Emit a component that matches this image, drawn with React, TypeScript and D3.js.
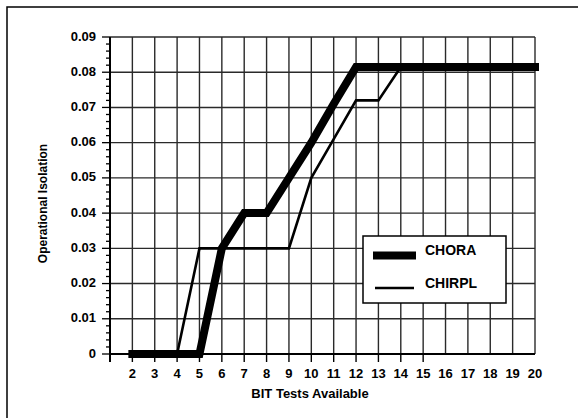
import React from "react";
import * as d3 from "d3";

// BIT tests available (x) and operational isolation (y) for the two methods
const tests = [2, 3, 4, 5, 6, 7, 8, 9, 10, 11, 12, 13, 14, 15, 16, 17, 18, 19, 20];
const chora = [0, 0, 0, 0, 0.03, 0.04, 0.04, 0.05, 0.06, 0.071, 0.0815, 0.0815, 0.0815, 0.0815, 0.0815, 0.0815, 0.0815, 0.0815, 0.0815];
const chirpl = [0, 0, 0, 0.03, 0.03, 0.03, 0.03, 0.03, 0.05, 0.061, 0.072, 0.072, 0.0815, 0.0815, 0.0815, 0.0815, 0.0815, 0.0815, 0.0815];
const yTicks = [0, 0.01, 0.02, 0.03, 0.04, 0.05, 0.06, 0.07, 0.08, 0.09];
const yTickLabels = ["0", "0.01", "0.02", "0.03", "0.04", "0.05", "0.06", "0.07", "0.08", "0.09"];
const legendNames = ["CHORA", "CHIRPL"];

const W = 578;
const H = 418;
const margin = { top: 37, right: 43, bottom: 64, left: 110 };
const font = "'Liberation Sans', Arial, sans-serif";

export default function App() {
  const x = d3.scaleLinear().domain([1, 20]).range([margin.left, W - margin.right]);
  const y = d3.scaleLinear().domain([0, 0.09]).range([H - margin.bottom, margin.top]);

  const line = d3
    .line<number>()
    .x((_, i) => x(tests[i]))
    .y((d) => y(d));

  const minor = d3.range(0, 0.0901, 0.002);
  const x0 = x(1);
  const x1 = x(20);
  const y0 = y(0);
  const yTop = y(0.09);

  return (
    <svg
      width={W}
      height={H}
      style={{ position: "absolute", left: 0, top: 0, background: "#fff" }}
    >
      {/* outer frame */}
      <rect x={7} y={7} width={W + 10} height={H + 10} fill="none" stroke="#000" strokeWidth={1.5} />

      {/* horizontal grid */}
      {yTicks.map((t) => (
        <line key={"hg" + t} x1={x0} x2={x1} y1={y(t)} y2={y(t)} stroke="#2a2a2a" strokeWidth={1.4} />
      ))}
      {/* vertical grid */}
      {tests.map((t) => (
        <line key={"vg" + t} x1={x(t)} x2={x(t)} y1={yTop} y2={y0} stroke="#2a2a2a" strokeWidth={1.4} />
      ))}

      {/* x ticks below the axis (only up to 15 in the original) */}
      {[1, ...tests.filter((t) => t <= 15)].map((t) => (
        <line key={"xt" + t} x1={x(t)} x2={x(t)} y1={y0} y2={y0 + 8} stroke="#000" strokeWidth={1.4} />
      ))}

      {/* y ticks */}
      {minor.map((m, i) => (
        <line
          key={"yt" + i}
          x1={i % 5 === 0 ? x0 - 8 : x0 - 4}
          x2={x0}
          y1={y(m)}
          y2={y(m)}
          stroke="#000"
          strokeWidth={1.3}
        />
      ))}

      {/* axes */}
      <line x1={x0} x2={x0} y1={yTop} y2={y0 + 8} stroke="#000" strokeWidth={2} />
      <line x1={x0} x2={x1} y1={y0} y2={y0} stroke="#000" strokeWidth={2} />

      {/* tick labels */}
      {yTicks.map((t, i) => (
        <text
          key={"yl" + t}
          x={x0 - 14}
          y={y(t) - 1}
          dy="0.35em"
          textAnchor="end"
          fontFamily={font}
          fontWeight="bold"
          fontSize={13}
        >
          {yTickLabels[i]}
        </text>
      ))}
      {tests.map((t) => (
        <text
          key={"xl" + t}
          x={x(t)}
          y={y0 + 24}
          textAnchor="middle"
          fontFamily={font}
          fontWeight="bold"
          fontSize={13}
        >
          {t}
        </text>
      ))}

      {/* axis titles */}
      <text x={310} y={398} textAnchor="middle" fontFamily={font} fontWeight="bold" fontSize={13}>
        BIT Tests Available
      </text>
      <text
        transform={`translate(47,${(yTop + y0) / 2 + 8}) rotate(-90)`}
        textAnchor="middle"
        fontFamily={font}
        fontWeight="bold"
        fontSize={12}
      >
        Operational Isolation
      </text>

      {/* series */}
      <path d={line(chirpl) || ""} fill="none" stroke="#000" strokeWidth={2.6} strokeLinejoin="miter" />
      <path
        d={line(chora) || ""}
        fill="none"
        stroke="#000"
        strokeWidth={8}
        strokeLinejoin="miter"
        strokeLinecap="square"
      />

      {/* legend */}
      <g>
        <rect x={363} y={236} width={143} height={67} fill="#fff" stroke="#000" strokeWidth={1.5} />
        <line x1={373} x2={416} y1={255.5} y2={255.5} stroke="#000" strokeWidth={8} />
        <line x1={375} x2={414} y1={288} y2={288} stroke="#000" strokeWidth={2.6} />
        <text x={425} y={255} fontFamily={font} fontWeight="bold" fontSize={14}>
          {legendNames[0]}
        </text>
        <text x={425} y={288} fontFamily={font} fontWeight="bold" fontSize={14}>
          {legendNames[1]}
        </text>
      </g>
    </svg>
  );
}
